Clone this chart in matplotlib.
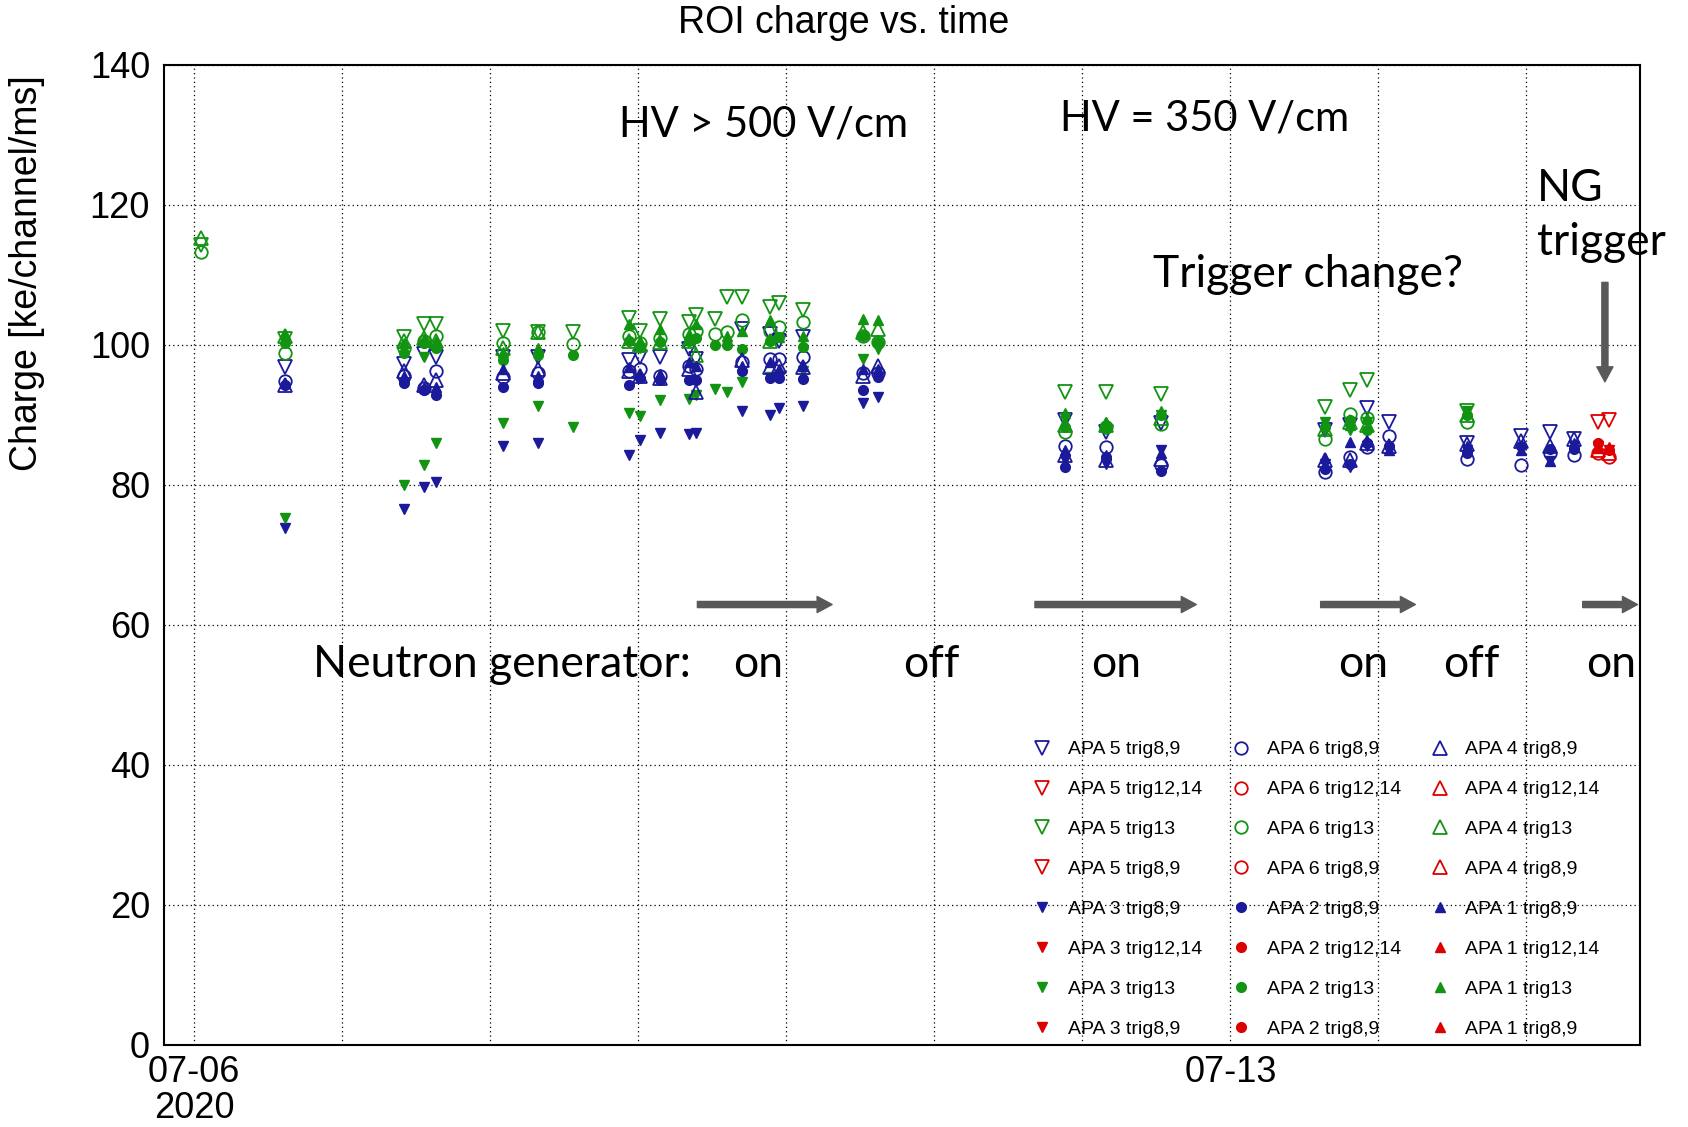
import numpy as np
import matplotlib
matplotlib.use("Agg")
import matplotlib.pyplot as plt

nan = np.nan

# run times in days after 2020-07-06 00:00
t_green = [0.05, 0.615, 1.42, 1.55, 1.633, 2.09, 2.32, 2.56, 2.94, 3.01, 3.15, 3.34, 3.39, 3.52, 3.60,
           3.70, 3.89, 3.95, 4.11, 4.52, 4.62, 5.88, 6.16, 6.53, 7.64, 7.81, 7.92, 8.60, 1.55, 3.01]
apa5_g = [114.3, 100.8, 101.1, 103.0, 103.0, 102.0, 101.8, 101.8, 103.8, 102.0, 103.7, 103.2, 104.2, 103.7, 106.8,
          106.8, 105.4, 105.9, 104.9, nan, nan, 93.2, 93.2, 93.0, 91.1, 93.5, 94.9, 90.6, nan, nan]
apa6_g = [113.3, 98.8, 99.6, 100.5, 101.3, 100.2, 101.8, 100.1, 101.3, 100.2, 100.9, 101.6, 102.0, 101.6, 101.8,
          103.5, 102.0, 102.5, 103.2, 101.3, 100.4, 87.5, 88.2, 88.7, 86.6, 90.1, 89.5, 88.9, nan, nan]
apa4_g = [115.3, 101.2, 100.5, 101.0, 100.6, 99.5, 101.8, nan, 100.6, 100.0, 100.4, 100.6, 98.5, nan, nan,
          nan, 100.6, nan, nan, 101.8, 102.3, 88.5, 88.5, 89.5, 88.0, 89.0, 88.5, 90.0, nan, nan]
apa3_g = [nan, 75.2, 79.9, 82.8, 85.9, 88.8, 91.3, 88.2, 90.2, 89.8, 92.1, 92.3, 92.8, 93.7, 93.2,
          94.7, 95.4, 95.6, 96.3, 98.0, 99.4, 89.5, 88.0, 90.0, 89.0, 87.8, 89.0, 90.6, 98.2, 99.5]
apa2_g = [nan, 100.2, 98.8, 100.2, 99.6, 97.8, 98.5, 98.5, 100.6, 99.7, 100.4, 100.6, 100.9, 99.9, 99.9,
          99.4, 100.6, 101.1, 99.7, 101.3, 100.4, 88.2, 88.2, 89.9, 88.2, 89.2, 87.8, 89.9, nan, nan]
apa1_g = [nan, 101.5, 100.2, 100.8, 100.6, 99.0, 99.5, nan, 103.0, 100.5, 102.3, 101.6, 103.0, nan, 101.3,
          102.0, 103.5, 101.1, 101.3, 103.7, 103.5, 90.2, 89.0, 90.6, 89.0, 88.5, 89.5, 90.6, nan, nan]

t_blue = [0.615, 1.42, 1.55, 1.633, 2.09, 2.32, 2.94, 3.01, 3.15, 3.34, 3.39, 3.70, 3.89, 3.95,
          4.11, 4.52, 4.62, 5.88, 6.16, 6.53, 7.64, 7.81, 7.92, 8.07, 8.60, 8.96, 9.16, 9.32]
apa5_b = [96.8, 97.3, 98.7, 98.2, 98.2, 98.2, 97.8, 98.2, 98.2, 99.4, 98.0, 102.3, 101.6, 100.6,
          101.1, nan, nan, 89.2, 87.5, 88.8, 87.8, 88.5, 90.9, 88.9, 86.0, 87.0, 87.5, 86.6]
apa6_b = [94.8, 95.5, 93.8, 96.3, 95.4, 95.9, 96.3, 96.6, 95.6, 97.0, 96.5, 97.5, 98.0, 98.0,
          98.2, 96.0, 96.0, 85.6, 85.4, 82.8, 81.8, 84.0, 85.4, 87.0, 83.7, 82.8, 84.5, 84.2]
apa4_b = [94.3, 96.2, 94.2, 94.9, 96.0, 96.5, 96.3, 95.5, 95.2, 96.5, 93.2, 97.8, 96.8, 97.0,
          96.8, 95.6, 97.0, 84.2, 83.5, 83.7, 83.5, 83.5, 86.0, 85.5, 85.8, 86.2, 85.5, 86.6]
apa3_b = [73.8, 76.6, 79.7, 80.4, 85.5, 86.0, 84.2, 86.4, 87.4, 87.3, 87.4, 90.6, 89.9, 90.9,
          91.2, 91.7, 92.5, 83.5, 83.0, 84.9, 83.0, 82.5, 85.5, 84.9, 85.0, 85.0, 83.4, 85.5]
apa2_b = [94.2, 94.5, 93.5, 92.8, 94.0, 94.5, 94.2, 95.2, 95.0, 94.9, 94.9, 96.3, 95.2, 95.2,
          95.1, 93.5, 95.4, 82.5, 84.0, 82.0, 82.3, 83.0, 85.9, 85.6, 84.5, 85.5, 85.1, 85.1]
apa1_b = [94.6, 95.5, 93.9, 94.0, 96.5, 95.5, 96.8, 95.8, 95.8, 97.5, 97.0, 97.0, 97.5, 96.5,
          97.0, 96.6, 96.6, 84.9, 84.2, 84.5, 83.8, 86.1, 86.2, 85.0, 85.6, 84.9, 83.4, 86.0]

# NG trigger runs
t_red = [9.48, 9.56]
apa5_r = [88.9, 89.2]
apa6_r = [84.5, 83.9]
apa4_r = [85.0, 84.5]
apa3_r = [85.5, 84.9]
apa2_r = [85.9, 84.9]
apa1_r = [85.3, 85.4]

day_ticks = list(range(10))
day_labels = ["07-06\n2020", "", "", "", "", "", "", "07-13", "", ""]

BLUE = "#1a1a9a"
GREEN = "#129412"
RED = "#dd0000"
GREY = "#595959"

apas = [  # name, marker, filled, green data, blue data, red data
    ("APA 5", "v", False, apa5_g, apa5_b, apa5_r),
    ("APA 3", "v", True, apa3_g, apa3_b, apa3_r),
    ("APA 6", "o", False, apa6_g, apa6_b, apa6_r),
    ("APA 2", "o", True, apa2_g, apa2_b, apa2_r),
    ("APA 4", "^", False, apa4_g, apa4_b, apa4_r),
    ("APA 1", "^", True, apa1_g, apa1_b, apa1_r),
]

fig = plt.figure(figsize=(16.88, 11.27), dpi=100)
ax = fig.add_axes([164/1688, 1-1045/1127, (1640-164)/1688, (1045-64.6)/1127])

for name, mk, filled, g, b, r in apas:
    entries = [("trig8,9", BLUE, t_blue, b),
               ("trig12,14", RED, [], []),
               ("trig13", GREEN, t_green, g),
               ("trig8,9", RED, t_red, r)]
    for trig, col, tt, vals in entries:
        if filled:
            ms = 7.5 if mk != "o" else 7
            ax.plot(tt, vals, ls="none", marker=mk, ms=ms, color=col, mec=col,
                    label=name + " " + trig)
        else:
            ms = 10.5 if mk != "o" else 9
            ax.plot(tt, vals, ls="none", marker=mk, ms=ms, mfc="none", mec=col,
                    mew=1.3, label=name + " " + trig)

ax.set_xlim(-0.203, 9.767)
ax.set_ylim(0, 140)
ax.set_xticks(day_ticks)
ax.set_xticklabels(day_labels, linespacing=1.05)
ax.set_yticks(np.arange(0, 141, 20))
ax.tick_params(length=0, labelsize=26, pad=10)
ax.tick_params(axis="x", pad=7)
for lab in ax.get_xticklabels() + ax.get_yticklabels():
    lab.set_family("Liberation Sans")
ax.grid(True, color="black", ls=(0, (1, 2.5)), lw=0.9)
for s in ax.spines.values():
    s.set_linewidth(1.5)

leg = ax.legend(ncol=3, loc="upper left", bbox_to_anchor=(1023/1688, 1-731/1127),
                bbox_transform=fig.transFigure, frameon=False, borderpad=0,
                prop={"family": "Liberation Sans", "size": 14},
                handlelength=1.0, handletextpad=0.8, columnspacing=1.52, labelspacing=1.15)

fig.text(0.5, 1-33/1127, "ROI charge vs. time", ha="center", va="baseline",
         fontsize=27, family="Liberation Sans")
fig.text(27/1688, 1-75/1127, "Charge [ke/channel/ms]", rotation=90, ha="center", va="top",
         fontsize=27, family="Liberation Sans")

# slide annotations
note = dict(fontsize=32, family="Lato", va="baseline")
hv = dict(note, fontsize=30)
ax.text(2.87, 129.7, "HV > 500 V/cm", **hv)
ax.text(5.85, 130.6, "HV = 350 V/cm", **hv)
ax.text(6.475, 108.3, "Trigger change?", **note)
ax.text(9.07, 120.5, "NG", **note)
ax.text(9.07, 112.8, "trigger", **note)
ax.text(0.806, 52.5, "Neutron generator:", **note)
for xc, word in [(3.81, "on"), (4.98, "off"), (6.23, "on"), (7.90, "on"), (8.63, "off"), (9.57, "on")]:
    ax.text(xc, 52.5, word, ha="center", **note)

arrow = dict(arrowstyle="simple,head_length=0.54,head_width=0.58,tail_width=0.22",
             color=GREY, shrinkA=0, shrinkB=0, mutation_scale=20)
for x0, x1 in [(3.40, 4.31), (5.68, 6.77), (7.61, 8.25), (9.38, 9.75)]:
    ax.annotate("", xy=(x1, 62.9), xytext=(x0, 62.9), arrowprops=arrow, annotation_clip=False)
ax.annotate("", xy=(9.53, 94.7), xytext=(9.53, 108.9), arrowprops=arrow, annotation_clip=False)

fig.savefig("out.png", dpi=100)
